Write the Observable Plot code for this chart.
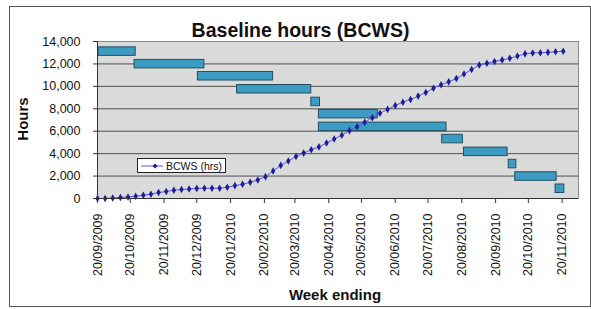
<!DOCTYPE html>
<html><head><meta charset="utf-8">
<script src="https://cdn.jsdelivr.net/npm/d3@7"></script>
<script src="https://cdn.jsdelivr.net/npm/@observablehq/plot@0.6"></script>
<style>
body{margin:0;background:#fff;font-family:"Liberation Sans",Arial,sans-serif;}
#wrap{position:relative;width:591px;height:309px;overflow:hidden;background:#fff;}
#chart{position:absolute;left:0;top:0;}
.border{position:absolute;left:9px;top:6px;width:582px;height:301px;border:1.5px solid #555;box-sizing:border-box;pointer-events:none;}
.title{position:absolute;left:0;width:601px;top:21px;text-align:center;font-weight:bold;font-size:19.5px;line-height:1;color:#111;}
.xlabel{position:absolute;left:235px;width:200px;top:287px;text-align:center;font-weight:bold;font-size:15px;line-height:1;color:#111;}
.ylabel{position:absolute;left:22px;top:119px;transform:translate(-50%,-50%) rotate(-90deg);font-weight:bold;font-size:15px;line-height:1;color:#111;white-space:nowrap;}
.legend{position:absolute;left:137px;top:158px;width:89px;height:15px;border:1px solid #222;background:#fff;box-sizing:border-box;display:flex;align-items:center;font-size:10.5px;color:#111;}
.legend svg{margin-left:3px;margin-right:3px;}
</style>
</head><body>
<div id="wrap">
  <div id="chart"></div>
  <div class="title">Baseline hours (BCWS)</div>
  <div class="ylabel">Hours</div>
  <div class="xlabel">Week ending</div>
  <div class="legend"><svg width="22" height="10"><line x1="0" y1="5" x2="22" y2="5" stroke="#5a5ad0" stroke-width="1"/><path d="M14,2.5 L16.5,5 L14,7.5 L11.5,5Z" fill="#1c1ca0"/></svg><span>BCWS (hrs)</span></div>
  <div class="border"></div>
</div>
<script>
const weekEnding = [
 "2009-09-20","2009-09-27","2009-10-04","2009-10-11","2009-10-18","2009-10-25","2009-11-01","2009-11-08","2009-11-15","2009-11-22","2009-11-29","2009-12-06","2009-12-13","2009-12-20","2009-12-27",
 "2010-01-03","2010-01-10","2010-01-17","2010-01-24","2010-01-31","2010-02-07","2010-02-14","2010-02-21","2010-02-28",
 "2010-03-07","2010-03-14","2010-03-21","2010-03-28","2010-04-04","2010-04-11","2010-04-18","2010-04-25",
 "2010-05-02","2010-05-09","2010-05-16","2010-05-23","2010-05-30","2010-06-06","2010-06-13","2010-06-20","2010-06-27",
 "2010-07-04","2010-07-11","2010-07-18","2010-07-25","2010-08-01","2010-08-08","2010-08-15","2010-08-22","2010-08-29",
 "2010-09-05","2010-09-12","2010-09-19","2010-09-26","2010-10-03","2010-10-10","2010-10-17","2010-10-24","2010-10-31",
 "2010-11-07","2010-11-14","2010-11-21"];
const bcwsHours = [
 0,0,50,90,140,200,290,380,530,620,740,800,850,900,920,
 920,920,1000,1150,1270,1450,1650,1950,2450,
 2950,3350,3750,4050,4350,4600,4950,5300,
 5650,6050,6400,6800,7200,7600,7950,8300,8590,
 8830,9130,9450,9830,10150,10400,10700,11100,11500,
 11900,12060,12220,12360,12500,12700,12900,12980,12990,
 13030,13080,13130];

const barStart = ["2009-09-21","2009-10-24","2009-12-21","2010-01-26","2010-04-04","2010-04-11","2010-04-11","2010-08-02","2010-08-22","2010-10-02","2010-10-08","2010-11-14"];
const barEnd   = ["2009-10-25","2009-12-27","2010-02-28","2010-04-04","2010-04-12","2010-06-04","2010-08-06","2010-08-21","2010-10-01","2010-10-09","2010-11-15","2010-11-22"];
const barLevel = [13100,11980,10900,9740,8610,7520,6390,5300,4160,3070,1960,870];
const barHalf = 380;

const xTickDates = ["2009-09-20","2009-10-20","2009-11-20","2009-12-20","2010-01-20","2010-02-20","2010-03-20","2010-04-20","2010-05-20","2010-06-20","2010-07-20","2010-08-20","2010-09-20","2010-10-20","2010-11-20"];
const yTicks = [0,2000,4000,6000,8000,10000,12000,14000];
const xDomain = ["2009-09-20","2010-12-05"];

const parse = d3.utcParse("%Y-%m-%d");
const lineData = weekEnding.map((d,i)=>({date:parse(d), hours:bcwsHours[i]}));
const bars = barStart.map((s,i)=>({start:parse(s), end:parse(barEnd[i]), level:barLevel[i]}));
const xTicks = xTickDates.map(parse);

const chart = Plot.plot({
  width:591, height:309,
  marginLeft:97, marginRight:13, marginTop:41, marginBottom:111,
  style:{background:"transparent", fontFamily:"Liberation Sans, Arial, sans-serif", fontSize:"12.5px", color:"#111"},
  x:{type:"utc", domain:xDomain.map(parse)},
  y:{domain:[0,14000]},
  marks:[
    Plot.frame({fill:"#dadada", stroke:"none"}),
    Plot.gridY(yTicks, {stroke:"#505050", strokeOpacity:1, strokeWidth:1}),
    Plot.frame({stroke:"#8a8a8a", fill:"none"}),
    Plot.rect(bars, {x1:"start", x2:"end", y1:d=>d.level-barHalf, y2:d=>d.level+barHalf, fill:"#3b9bc2", stroke:"#24505e", strokeWidth:1}),
    Plot.line(lineData, {x:"date", y:"hours", stroke:"#5a5ad0", strokeWidth:1}),
    Plot.dot(lineData, {x:"date", y:"hours", symbol:"diamond", r:2.3, fill:"#1c1ca0", stroke:"none"}),
    Plot.axisY(yTicks, {tickSize:4, tickPadding:13, tickFormat:d3.format(","), label:null, stroke:"#333"}),
    Plot.axisX(xTicks, {tickSize:5, tickPadding:10, tickRotate:-90, tickFormat:d3.utcFormat("%d/%m/%Y"), label:null, stroke:"#333"}),
    Plot.ruleY([0], {stroke:"#333"}),
    Plot.ruleX([parse(xDomain[0])], {stroke:"#333"})
  ]
});
document.getElementById("chart").appendChild(chart);
</script>
</body></html>
